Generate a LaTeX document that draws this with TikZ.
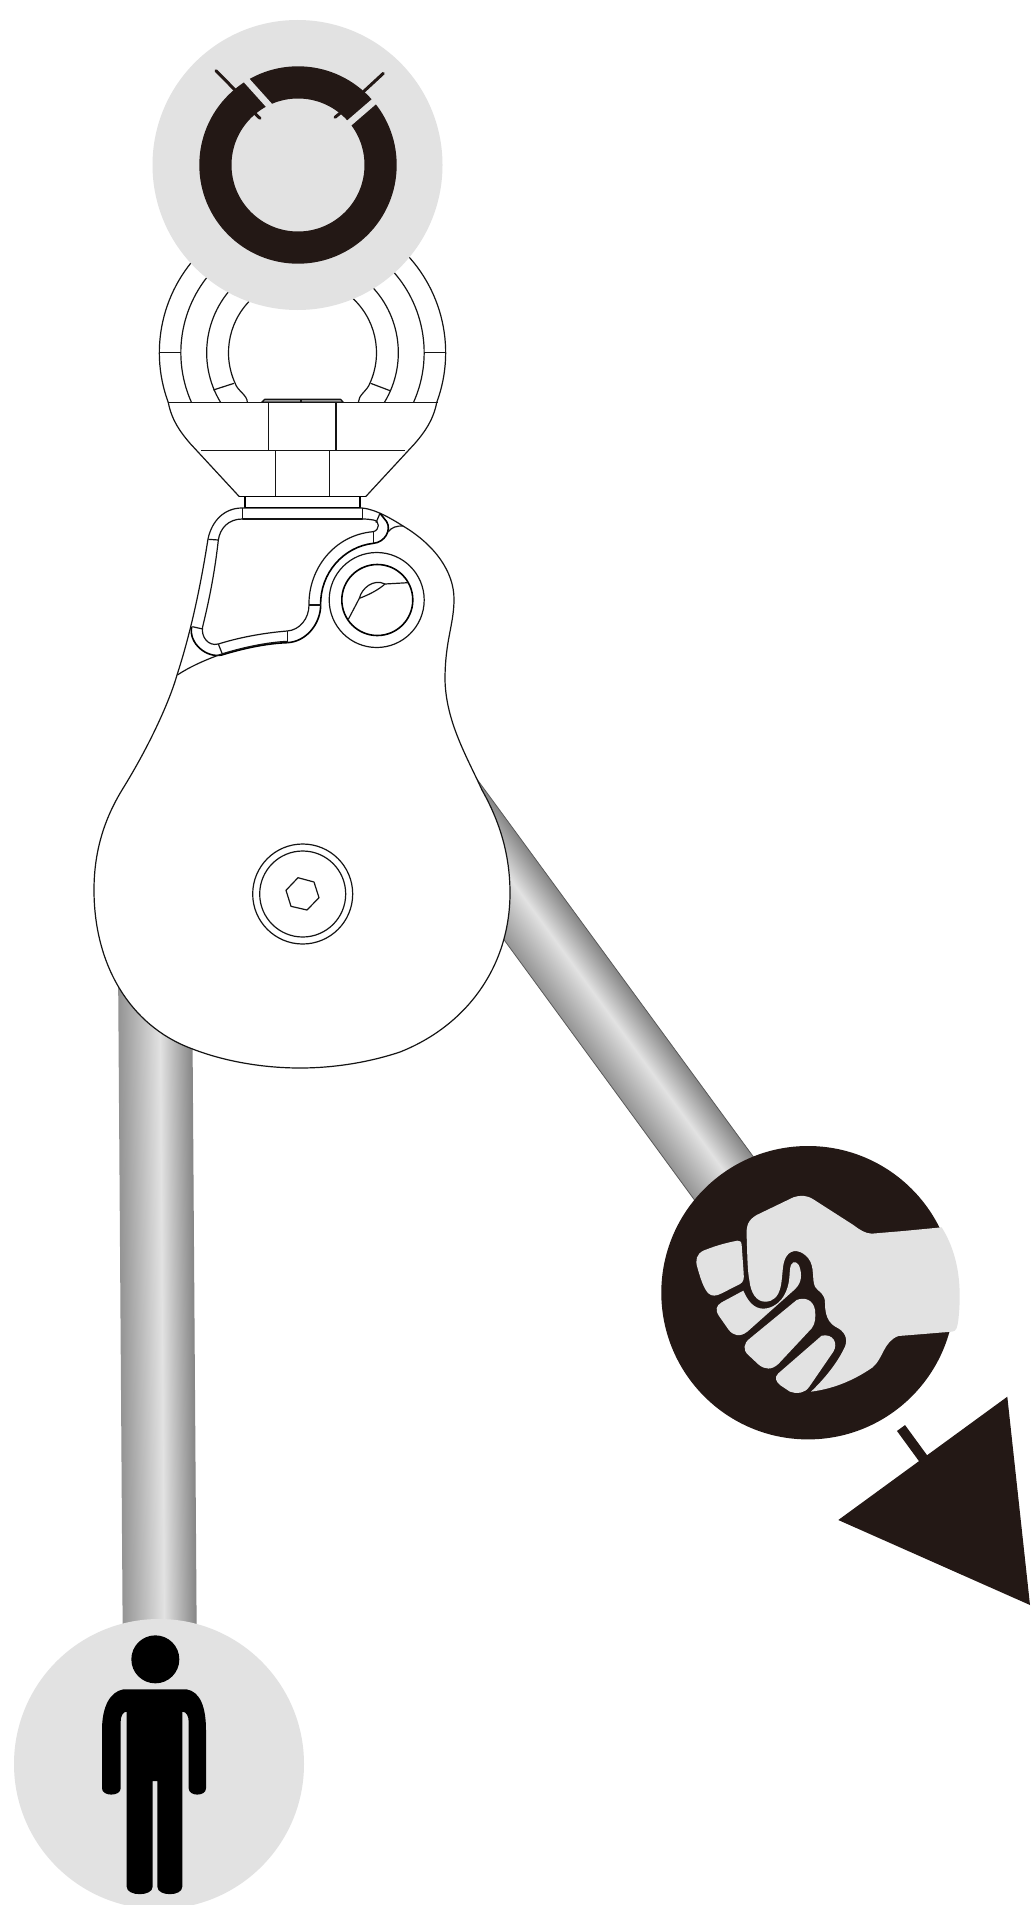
\documentclass[tikz,border=0pt]{standalone}
\usepackage{xcolor}
\usepackage{tikz}

\definecolor{inkdark}{HTML}{231815}
\definecolor{discgray}{HTML}{E2E2E2}

\pgfdeclarehorizontalshading{ropeshade}{100bp}{
  color(0bp)=(black!42); color(25bp)=(black!42); color(53bp)=(discgray);
  color(75bp)=(black!48); color(100bp)=(black!48)}

\begin{document}
\begin{tikzpicture}[
  x=1pt, y=-1pt,
  crop/.style 2 args={shift={(#1,#2)}, x=.33333pt, y=-.33333pt},
  wire/.style={draw=black!92, line width=1.2pt, line join=round},
  heavy/.style={draw=black, line width=1.6pt, line join=round},
  disc/.style={fill=discgray},
  ink/.style={fill=inkdark},
  palm/.style={fill=discgray}
]
\useasboundingbox (0,0) rectangle (1034,1905);
\fill[white] (0,0) rectangle (1034,1905);

% ropes
\begin{scope}[transform canvas={shift={(118,960)}, rotate=0.4}]
  \shade[shading=ropeshade] (0,0) rectangle (74,680);
\end{scope}
\begin{scope}[transform canvas={shift={(400.8,798.7)}, rotate=36.2}]
  \shadedraw[shading=ropeshade, draw=black!65, line width=.8pt] (0,0) rectangle (73,500);
\end{scope}

% pulley cheek
\filldraw[wire, fill=white] (362,508) .. controls (375,509) and (392,519) .. (403,526)
  .. controls (435,545) and (454,572) .. (454,599)
  .. controls (454,625) and (445,640) .. (445,680)
  .. controls (446,722) and (467,757) .. (482,790)
  .. controls (500,822) and (510,855) .. (510,893)
  .. controls (510,965) and (468,1025) .. (400,1052)
  .. controls (370,1062) and (335,1068) .. (300,1068)
  .. controls (265,1068) and (225,1062) .. (190,1048)
  .. controls (130,1025) and (94,965) .. (94,890)
  .. controls (94,850) and (105,818) .. (122,790)
  .. controls (150,745) and (170,700) .. (177,675)
  .. controls (190,635) and (200,590) .. (208,539)
  .. controls (212,520) and (225,508) .. (242,508) -- cycle;

% bolts
\draw[wire] (302.7,894) circle[radius=50];
\draw[wire] (302.7,894) circle[radius=43];
\draw[wire] (298,877.7) -- (314,882) -- (319,897.7) -- (307,910) -- (291,906.3) -- (286,890.3) -- cycle;
\draw[wire] (376.7,600) circle[radius=47.5];
\draw[heavy] (377.3,600) circle[radius=35.5];

% gate and side plate, in the crop at (160,480)
\begin{scope}[crop={160}{480}]
  \draw[wire] (247,117) .. controls (205,117) and (180,145) .. (175,180)
    .. controls (165,270) and (150,350) .. (128,440)
    .. controls (122,470) and (145,500) .. (175,492)
    .. controls (245,470) and (320,458) .. (382,453)
    .. controls (420,450) and (447,415) .. (447,375)
    .. controls (445,270) and (520,165) .. (640,155)
    .. controls (660,150) and (660,122) .. (640,120)
    .. controls (630,118) and (620,117) .. (607,117);
  \draw[heavy] (95,440) .. controls (85,490) and (140,535) .. (185,525)
    .. controls (250,505) and (320,490) .. (382,488)
    .. controls (440,485) and (482,430) .. (482,375)
    .. controls (480,280) and (550,200) .. (640,190)
    .. controls (675,187) and (695,150) .. (680,125) -- (660,100);
  \draw[wire] (52,585) .. controls (90,560) and (135,540) .. (185,522)
    .. controls (250,502) and (320,487) .. (382,484);
  \draw[wire] (145,178) -- (175,180);
  \draw[wire] (97,440) -- (128,447);
  \draw[wire] (175,492) -- (187,522);
  \draw[wire] (382,453) -- (382,490);
  \draw[wire] (447,375) -- (482,375);
  \draw[wire] (640,155) -- (640,190);
  \draw[wire] (660,100) -- (648,128);
  \draw[wire] (685,155) .. controls (695,142) and (710,137) .. (730,138);
  \draw[wire] (247,85) -- (247,117) -- (607,117) -- (607,85);
  \draw[wire] (565,418) -- (598,355);
  \draw[wire] (598,355) .. controls (605,325) and (640,295) .. (675,312);
  \draw[wire] (598,355) .. controls (625,345) and (655,330) .. (675,312);
  \draw[wire] (675,312) -- (745,308);
\end{scope}

% swivel and eye, in the crop at (130,0)
\begin{scope}[crop={130}{0}]
  \draw[wire] (517.5,1058) ++(230:429.5) arc[start angle=230, end angle=159.7, radius=429.5]
    .. controls (125,1260) and (150,1295) .. (180,1330) -- (328,1490);
  \draw[wire] (517.5,1058) ++(-50:429.5) arc[start angle=-50, end angle=20.3, radius=429.5]
    .. controls (910,1260) and (885,1295) .. (855,1330) -- (707,1490);
  \foreach \rad/\ang in {365/24.1, 287.5/31.2} {
    \draw[wire] (517.5,1058) ++(230:\rad) arc[start angle=230, end angle=180-\ang, radius=\rad];
    \draw[wire] (517.5,1058) ++(-50:\rad) arc[start angle=-50, end angle=\ang, radius=\rad];
  }
  \draw[wire] (517.5,1058) ++(230:222) arc[start angle=230, end angle=155.5, radius=222]
    .. controls (322,1172) and (352,1185) .. (352,1207);
  \draw[wire] (517.5,1058) ++(-50:222) arc[start angle=-50, end angle=24.5, radius=222]
    .. controls (712,1172) and (685,1185) .. (685,1207);
  \draw[wire] (88,1058) -- (153,1058);
  \draw[wire] (883,1058) -- (947,1058);
  \draw[wire] (250,1170) -- (312,1150);
  \draw[wire] (722,1150) -- (780,1172);
  \filldraw[wire, fill=black!40] (395,1207) -- (404,1198) -- (632,1198) -- (640,1207) -- cycle;
  \draw[wire] (513,1198) -- (513,1207);
  \draw[wire] (113,1207) -- (923,1207);
  \draw[wire] (415,1207) -- (415,1352);
  \draw[wire] (618,1207) -- (618,1352);
  \draw[wire] (213,1352) -- (825,1352);
  \draw[wire] (436,1352) -- (436,1490);
  \draw[wire] (598,1352) -- (598,1490);
  \draw[heavy] (328,1490) -- (707,1490);
  \draw[heavy] (345,1490) rectangle (690,1522);
\end{scope}

% top disc
\fill[disc] (297.5,165) circle[radius=145];
\fill[ink, even odd rule] (298,165) circle[radius=98.7] (298,165) circle[radius=66.5];
\begin{scope}[crop={130}{0}]
  \draw[discgray, line width=6.5pt] (335,225) -- (425,325);
  \draw[discgray, line width=6.5pt] (755,285) -- (645,380);
  \draw[inkdark, line width=3pt, line cap=round] (258,212) -- (320,275);
  \draw[inkdark, line width=3pt, line cap=round] (760,220) -- (695,280);
  \draw[inkdark, line width=3pt, line cap=round] (372,338) -- (390,355);
  \draw[inkdark, line width=3pt, line cap=round] (632,338) -- (615,352);
\end{scope}

% hand disc
\fill[ink] (808,1292.7) circle[radius=146.7];
\begin{scope}[crop={650}{1130}]
  \fill[palm] (483,785) .. controls (560,775) and (620,745) .. (668,712)
    .. controls (700,685) and (700,635) .. (745,618)
    -- (820,612) -- (905,605) .. controls (920,605) and (922,590) .. (925,570)
    .. controls (935,480) and (930,380) .. (875,292)
    -- (760,303) -- (665,311) .. controls (645,310) and (630,300) .. (610,285)
    -- (490,208) .. controls (470,195) and (450,195) .. (430,202)
    -- (320,255) .. controls (295,270) and (288,285) .. (290,320)
    .. controls (292,370) and (292,420) .. (298,450)
    .. controls (302,490) and (320,515) .. (345,515)
    .. controls (370,515) and (385,500) .. (392,470)
    .. controls (400,430) and (395,400) .. (410,378)
    .. controls (425,355) and (455,360) .. (475,385)
    .. controls (495,410) and (485,450) .. (495,470)
    .. controls (510,490) and (525,490) .. (525,520)
    .. controls (525,570) and (545,585) .. (565,595)
    .. controls (590,610) and (595,635) .. (580,660)
    .. controls (560,700) and (525,745) .. (483,785) -- cycle;
  \fill[palm] (262,332) .. controls (220,340) and (190,350) .. (160,362)
    .. controls (140,372) and (135,390) .. (142,412)
    .. controls (150,440) and (160,475) .. (175,490)
    .. controls (185,500) and (200,498) .. (215,490)
    -- (270,462) .. controls (282,455) and (282,445) .. (281,430)
    -- (275,345) .. controls (274,335) and (270,331) .. (262,332) -- cycle;
  \fill[palm] (280,482) -- (215,517) .. controls (198,527) and (195,540) .. (207,558)
    -- (235,598) .. controls (250,618) and (270,622) .. (292,605)
    -- (430,482) .. controls (450,465) and (458,445) .. (450,415)
    .. controls (445,395) and (430,390) .. (423,405)
    .. controls (415,425) and (425,460) .. (400,500)
    .. controls (385,525) and (355,540) .. (330,535)
    .. controls (305,530) and (290,505) .. (280,482) -- cycle;
  \fill[palm] (440,510) -- (300,625) .. controls (280,640) and (278,660) .. (295,675)
    -- (325,703) .. controls (345,720) and (365,720) .. (385,702)
    -- (485,595) .. controls (497,580) and (497,560) .. (495,540)
    .. controls (490,510) and (465,500) .. (440,510) -- cycle;
  \fill[palm] (515,617) -- (385,730) .. controls (372,742) and (378,755) .. (390,765)
    -- (420,785) .. controls (440,793) and (465,790) .. (478,770)
    -- (550,665) .. controls (565,640) and (550,610) .. (515,617) -- cycle;
\end{scope}

% load
\fill[ink] (1007.3,1396.7) -- (1030,1605) -- (838.3,1520) -- cycle;
\draw[inkdark, line width=10pt] (901,1428) -- (928,1465);

% person disc
\fill[disc] (159,1764) circle[radius=145];
\begin{scope}[crop={80}{1620}]
  \fill[black] (226,118) circle[radius=72];
  \fill[black] (130,208) -- (320,208) .. controls (360,215) and (378,260) .. (378,330)
    -- (378,505) .. controls (378,530) and (326,530) .. (326,505)
    -- (326,305) .. controls (326,290) and (320,275) .. (307,275)
    -- (307,800) .. controls (307,830) and (232,830) .. (232,800)
    -- (232,483) -- (218,483)
    -- (218,800) .. controls (218,830) and (140,830) .. (140,800)
    -- (140,275) .. controls (128,275) and (122,290) .. (122,305)
    -- (122,505) .. controls (122,530) and (66,530) .. (66,505)
    -- (66,330) .. controls (66,260) and (90,215) .. (130,208) -- cycle;
\end{scope}
\end{tikzpicture}
\end{document}
